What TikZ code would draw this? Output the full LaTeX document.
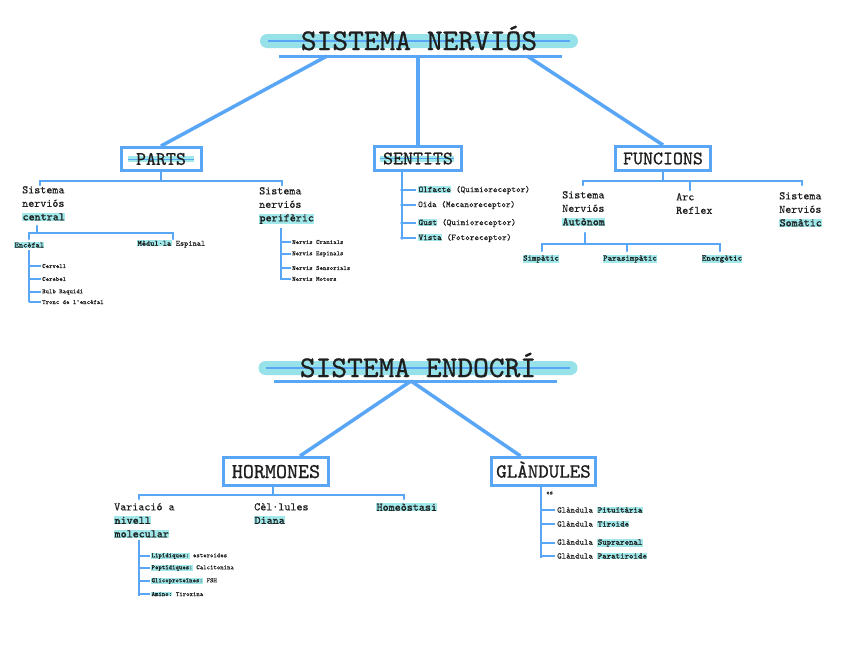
\documentclass[tikz,border=0pt]{standalone}
\usepackage{fontspec}
\newfontfamily\twf{lmmono10-regular.otf}[FakeBold=0.3]
\newfontfamily\twfh{lmmono10-regular.otf}[FakeBold=1.0]
\newfontfamily\twft{lmmono10-regular.otf}[FakeBold=0.8]
\usetikzlibrary{calc}
\definecolor{lb}{RGB}{88,166,245}
\definecolor{hlc}{RGB}{160,232,234}
\definecolor{tbar}{RGB}{150,226,232}
\definecolor{ink}{RGB}{30,30,30}
\newcommand\hl[1]{{\twfh\setlength{\fboxsep}{0.4pt}\colorbox{hlc}{#1}}}
\newcommand\fT{\twft\fontsize{30}{32}\selectfont}
\newcommand\fB{\twft\fontsize{19}{21}\selectfont}
\newcommand\fBB{\twft\fontsize{21}{23}\selectfont}
\newcommand\fA{\fontsize{11.5}{13.5}\selectfont}
\newcommand\fM{\fontsize{8.8}{10}\selectfont}
\newcommand\fN{\fontsize{8.5}{10}\selectfont}
\newcommand\fE{\fontsize{8}{9}\selectfont}
\newcommand\fS{\fontsize{6.5}{7.5}\selectfont}
\newcommand\fSS{\fontsize{6.5}{7.5}\selectfont}
\begin{document}
\begin{tikzpicture}[x=1pt,y=-1pt, font=\twf, text=ink,
  conn/.style={draw=lb, line width=3.5pt},
  tree/.style={draw=lb, line width=2.5pt, line cap=round},
  leaf/.style={draw=lb, line width=1.6pt},
  boxn/.style={draw=lb, line width=3pt, inner sep=0pt},
  bar/.style={fill=tbar, rounded corners=7pt, minimum height=14pt, inner sep=0pt},
  lbl/.style={inner sep=0pt, anchor=north west, align=left, font=\twf\fA},
  sm/.style={inner sep=0pt, anchor=west, font=\twf\fS},
  se/.style={inner sep=0pt, anchor=west, font=\twf\fE},
  sn/.style={inner sep=0pt, anchor=west, font=\twf\fSS},
  md/.style={inner sep=0pt, anchor=west, font=\twf\fM},
  nd/.style={inner sep=0pt, anchor=west, font=\twf\fN},
]
\useasboundingbox (0,0) rectangle (848,656);
\fill[white] (0,0) rectangle (848,656);

% ===== SISTEMA NERVIOS =====
\node[bar, minimum width=318pt] (bar1) at (419,41) {};
\draw[lb, line width=2pt] ($(bar1.west)+(8,0)$) -- ($(bar1.east)+(-8,0)$);
\node[anchor=base, inner sep=0pt, font=\fT] (t1) at (419,50) {SISTEMA NERVIÓS};
\coordinate (u1a) at (279,56);
\coordinate (u1b) at (562,56);
\draw[lb, line width=3pt] (u1a) -- (u1b);
\coordinate (r1) at (327,56);
\coordinate (r2) at (418,56);
\coordinate (r3) at (527,56);

% boxes
\node[boxn, minimum width=80pt, minimum height=23pt] (parts) at (161,159) {};
\fill[hlc] (128,156) rectangle (194,162);
\draw[lb, line width=1pt] (128,159) -- (194,159);
\node[anchor=base, inner sep=0pt, font=\fB] (partsT) at (161,164.8) {PARTS};

\node[boxn, minimum width=87pt, minimum height=24pt] (sentits) at (418,158.5) {};
\fill[hlc] (380,155.5) rectangle (454,161.5);
\draw[lb, line width=1pt] (380,158.5) -- (454,158.5);
\node[anchor=base, inner sep=0pt, font=\fB] (sentitsT) at (418,164.3) {SENTITS};

\node[boxn, minimum width=95pt, minimum height=24pt] (funcions) at (663,158.5) {};
\node[anchor=base, inner sep=0pt, font=\fB] (funcionsT) at (663,164.3) {FUNCIONS};

\draw[conn] (r1) -- (parts.north);
\draw[conn] (r2) -- (sentits.north);
\draw[conn] (r3) -- (funcions.north);

% PARTS tree
\coordinate (pl) at (40,181);
\coordinate (pr) at (282,181);
\draw[tree] (parts.south) -- (parts.south |- pl);
\draw[tree] (pl) -- (pr);
\draw[tree] (pl) -- ++(0,4);
\draw[tree] (pr) -- ++(0,4);
\node[lbl] (cen) at (22,186) {Sistema\\nerviós\\\hl{central}};
\node[lbl] (per) at (259,187) {Sistema\\nerviós\\\hl{perifèric}};

% central subtree
\coordinate (cs) at (37,226);
\coordinate (cl) at (29,233);
\coordinate (cr) at (173,233);
\draw[tree] (cs) -- (cs |- cl);
\draw[tree] (cl) -- (cr);
\draw[tree] (cl) -- ++(0,6);
\draw[tree] (cr) -- ++(0,6);
\node[se] (enc) at (14,245) {\hl{Encèfal}};
\node[se] (med) at (137,244) {\hl{Mèdul·la} Espinal};

\coordinate (ev1) at (29,250);
\coordinate (ev2) at (29,302);
\draw[leaf] (ev1) -- (ev2);
\node[sm] (cerv) at (42,266) {Cervell};
\node[sm] (cereb) at (42,279) {Cerebel};
\node[sm] (bulb) at (42,292) {Bulb Raquidi};
\node[sm] (tronc) at (42,302) {Tronc de l'encèfal};
\foreach \n in {cerv,cereb,bulb,tronc} \draw[leaf] (ev1 |- \n.west) -- ([xshift=-1pt]\n.west);

% periferic list
\coordinate (pv1) at (281,228);
\coordinate (pv2) at (281,280);
\draw[leaf] (pv1) -- (pv2);
\node[sn] (ncr) at (292,242) {Nervis Cranials};
\node[sn] (nesp) at (292,254) {Nervis Espinals};
\node[sn] (nsen) at (292,268) {Nervis Sensorials};
\node[sn] (nmot) at (292,279) {Nervis Motors};
\foreach \n in {ncr,nesp,nsen,nmot} \draw[leaf] (pv1 |- \n.west) -- ([xshift=-1pt]\n.west);

% SENTITS list
\coordinate (sv2) at (402,239);
\draw[leaf, line width=2pt] (sv2 |- sentits.south) -- (sv2);
\node[md] (olf) at (418,190) {\hl{Olfacte} (Quimioreceptor)};
\node[md] (oida) at (418,205) {Oïda (Mecanoreceptor)};
\node[md] (gust) at (418,223) {\hl{Gust} (Quimioreceptor)};
\node[md] (vista) at (418,238) {\hl{Vista} (Fotoreceptor)};
\foreach \n in {olf,oida,gust,vista} {
  \draw[leaf, line width=2pt] (sv2 |- \n.west) -- ([xshift=-2pt]\n.west);
  \fill[lb] (sv2 |- \n.west) circle (1.8pt);
}

% FUNCIONS tree
\coordinate (fl) at (583,181);
\coordinate (fm) at (690,181);
\coordinate (fr) at (802,181);
\draw[tree] (funcions.south) -- (funcions.south |- fl);
\draw[tree] (fl) -- (fr);
\draw[tree] (fl) -- ++(0,4);
\draw[tree] (fm) -- ++(0,9);
\draw[tree] (fr) -- ++(0,4);
\node[lbl] (aut) at (562,191) {Sistema\\Nerviós\\\hl{Autònom}};
\node[lbl] (arc) at (676,193) {Arc\\Reflex};
\node[lbl] (som) at (779,192) {Sistema\\Nerviós\\\hl{Somàtic}};

\coordinate (as) at (585,233);
\coordinate (al) at (542,244);
\coordinate (am) at (627,244);
\coordinate (ar) at (720,244);
\draw[tree] (as) -- (as |- al);
\draw[tree] (al) -- (ar);
\draw[tree] (al) -- ++(0,7);
\draw[tree] (am) -- ++(0,7);
\draw[tree] (ar) -- ++(0,7);
\node[inner sep=0pt, font=\twf\fontsize{8.5}{10}\selectfont] (simp) at (541,259) {\hl{Simpàtic}};
\node[inner sep=0pt, font=\twf\fontsize{8.5}{10}\selectfont] (para) at (630,259) {\hl{Parasimpàtic}};
\node[inner sep=0pt, font=\twf\fontsize{8.5}{10}\selectfont] (ener) at (722,259) {\hl{Energètic}};

% ===== SISTEMA ENDOCRI =====
\node[bar, minimum width=319pt] (bar2) at (418,368) {};
\draw[lb, line width=2pt] ($(bar2.west)+(8,0)$) -- ($(bar2.east)+(-8,0)$);
\node[anchor=base, inner sep=0pt, font=\fT] (t2) at (418,377) {SISTEMA ENDOCRÍ};
\coordinate (u2a) at (274,381);
\coordinate (u2b) at (557,381);
\draw[lb, line width=3pt] (u2a) -- (u2b);
\coordinate (ap) at (411,381);

\node[boxn, minimum width=105pt, minimum height=28pt] (hormones) at (276,471.5) {};
\node[anchor=base, inner sep=0pt, font=\fBB] (hormonesT) at (276,478) {HORMONES};
\node[boxn, minimum width=104pt, minimum height=28pt] (glandules) at (543.5,471.5) {};
\node[anchor=base, inner sep=0pt, font=\twft\fontsize{20}{22}\selectfont] (glandulesT) at (543.5,477.6) {GLÀNDULES};

\draw[conn] (ap) -- ([xshift=24pt]hormones.north);
\draw[conn] (ap) -- ([xshift=-23pt]glandules.north);

% HORMONES tree
\coordinate (hj) at (273,495);
\coordinate (hl) at (139,495);
\coordinate (hr) at (404,495);
\draw[tree] (hj |- hormones.south) -- (hj);
\draw[tree] (hl) -- (hr);
\draw[tree] (hl) -- ++(0,4);
\draw[tree] (hr) -- ++(0,4);
\node[lbl] (var) at (114,503) {Variació a\\\hl{nivell}\\\hl{molecular}};
\node[lbl] (cel) at (254,503) {Cèl·lules\\\hl{Diana}};
\node[lbl] (hom) at (376,503) {\hl{Homeòstasi}};

\coordinate (mv1) at (139,540);
\coordinate (mv2) at (139,596);
\draw[leaf] (mv1) -- (mv2);
\node[sn] (lip) at (151,556) {\hl{Lipídiques:} esteroides};
\node[sn] (pep) at (151,568) {\hl{Peptídiques:} Calcitonina};
\node[sn] (gli) at (151,581) {\hl{Glicoproteïnes:} FSH};
\node[sn] (ami) at (151,594) {\hl{Amino:} Tiroxina};
\foreach \n in {lip,pep,gli,ami} \draw[leaf] (mv1 |- \n.west) -- ([xshift=-1pt]\n.west);

% GLANDULES list
\coordinate (gv2) at (541,558);
\draw[leaf, line width=2pt] (gv2 |- glandules.south) -- (gv2);
\node[sm] (es) at (546,493) {es};
\node[nd] (pit) at (557,510) {Glàndula \hl{Pituïtària}};
\node[nd] (tir) at (557,524) {Glàndula \hl{Tiroide}};
\node[nd] (sup) at (557,543) {Glàndula \hl{Suprarenal}};
\node[nd] (par) at (557,556) {Glàndula \hl{Paratiroide}};
\foreach \n in {pit,tir,sup,par} \draw[leaf, line width=2pt] (gv2 |- \n.west) -- ([xshift=-2pt]\n.west);
\end{tikzpicture}
\end{document}
